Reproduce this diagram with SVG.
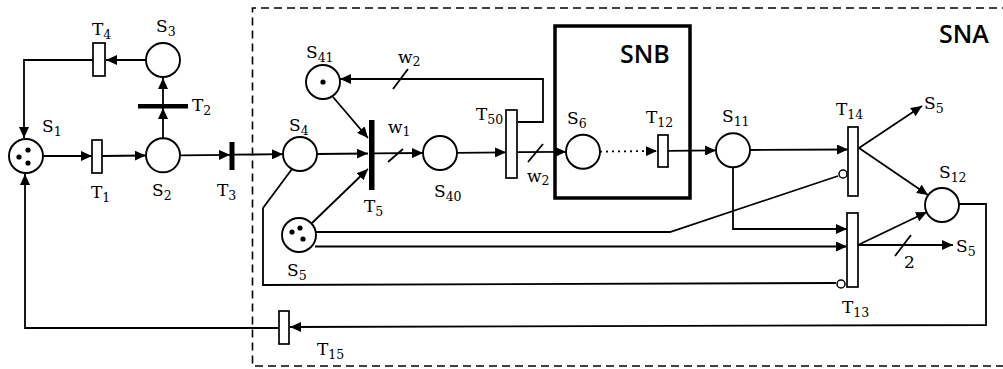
<svg xmlns="http://www.w3.org/2000/svg" width="1003" height="369" viewBox="0 0 1003 369">
<style>
.ln{fill:none;stroke:#000;stroke-width:1.8}
.pl{fill:#fff;stroke:#000;stroke-width:1.9}
.tr{fill:#fff;stroke:#000;stroke-width:1.7}
.bar{fill:#000}
.tk{fill:#000}
.lb{font-family:"DejaVu Serif","Liberation Serif",serif;font-size:17px;fill:#000}
.sb{font-size:12.5px}
.hd{font-family:"Open Sans","Liberation Sans",sans-serif;font-size:25px;font-weight:600;fill:#000}
.inh{fill:#fff;stroke:#000;stroke-width:1.5}
</style>
<defs>
<marker id="ar" markerUnits="userSpaceOnUse" markerWidth="12" markerHeight="10" refX="11" refY="5" orient="auto">
<path d="M0,0 L11,5 L0,10 z" fill="#000"/>
</marker>
</defs>
<rect width="1003" height="369" fill="#fff"/>
<g id="SNA">
<path d="M1010,8 L252.5,8 L252.5,366 L1010,366" fill="none" stroke="#000" stroke-width="1.6" stroke-dasharray="8,5"/>
<text class="hd" x="939" y="43">SNA</text>
</g>
<g id="SNB">
<rect x="555" y="26" width="135" height="172" fill="none" stroke="#000" stroke-width="3.5"/>
<text class="hd" x="620" y="63">SNB</text>
</g>
<g id="connectors">
<path class="ln" d="M93,60 L24,60 L24,138" marker-end="url(#ar)"/>
<path class="ln" d="M146,60 L106,60" marker-end="url(#ar)"/>
<path class="ln" d="M163,105 L163,78" marker-end="url(#ar)"/>
<path class="ln" d="M163,138 L163,108" marker-end="url(#ar)"/>
<path class="ln" d="M43,156 L92,156" marker-end="url(#ar)"/>
<path class="ln" d="M102,156 L146,155.5" marker-end="url(#ar)"/>
<path class="ln" d="M180,155.3 L230,154.8" marker-end="url(#ar)"/>
<path class="ln" d="M234,154.7 L283,154.2" marker-end="url(#ar)"/>
<path class="ln" d="M317,154 L368,153.5" marker-end="url(#ar)"/>
<path class="ln" d="M374,153.4 L423,153" marker-end="url(#ar)"/>
<path class="ln" d="M457,152.8 L506,152.3" marker-end="url(#ar)"/>
<path class="ln" d="M517,152.2 L566,151.8" marker-end="url(#ar)"/>
<path class="ln" d="M600,151.6 L657,151" marker-end="url(#ar)" stroke-dasharray="2,4"/>
<path class="ln" d="M668,150.9 L716,150.4" marker-end="url(#ar)"/>
<path class="ln" d="M750,150 L848,149.5" marker-end="url(#ar)"/>
<path class="ln" d="M518,122 L543,122 L543,79 L340,79" marker-end="url(#ar)"/>
<path class="ln" d="M333,97 L368,138" marker-end="url(#ar)"/>
<path class="ln" d="M312,223 L368,169" marker-end="url(#ar)"/>
<path class="ln" d="M292,169 L263,208 L263,285 L836,283"/>
<path class="ln" d="M316,232 L670,232 L838,176"/>
<path class="ln" d="M315,246.5 L847,246.5" marker-end="url(#ar)"/>
<path class="ln" d="M733,167 L733,229 L847,229" marker-end="url(#ar)"/>
<path class="ln" d="M859,148 L922,106" marker-end="url(#ar)"/>
<path class="ln" d="M859,148 L928,195" marker-end="url(#ar)"/>
<path class="ln" d="M858,245 L927,212" marker-end="url(#ar)"/>
<path class="ln" d="M858,245 L953,245" marker-end="url(#ar)"/>
<path class="ln" d="M959,204 L986,204 L986,325 L290,327" marker-end="url(#ar)"/>
<path class="ln" d="M279,328 L25,328 L25,174" marker-end="url(#ar)"/>
<path class="ln" d="M388,162 L403,149"/>
<path class="ln" d="M393,89 L408,69"/>
<path class="ln" d="M528,162 L543,144"/>
<path class="ln" d="M895,256 L911,235"/>
<circle class="inh" cx="843" cy="174" r="4"/>
<circle class="inh" cx="841" cy="284" r="4"/>
<text class="lb" x="388" y="133">w<tspan class="sb" dy="3">1</tspan></text>
<text class="lb" x="398" y="63">w<tspan class="sb" dy="3">2</tspan></text>
<text class="lb" x="527" y="182">w<tspan class="sb" dy="3">2</tspan></text>
<text class="lb" x="904" y="268">2</text>
</g>
<g id="S1">
<circle class="pl" cx="26" cy="156" r="17"/>
<circle class="tk" cx="19" cy="157" r="2.6"/>
<circle class="tk" cx="28" cy="150" r="2.6"/>
<circle class="tk" cx="28" cy="163" r="2.6"/>
<text class="lb" x="42" y="132">S<tspan class="sb" dy="4">1</tspan></text>
</g>
<g id="T1">
<rect class="tr" x="92" y="140" width="10" height="33"/>
<text class="lb" x="91" y="198">T<tspan class="sb" dy="4">1</tspan></text>
</g>
<g id="S2">
<circle class="pl" cx="163" cy="155.3" r="17"/>
<text class="lb" x="152" y="196">S<tspan class="sb" dy="4">2</tspan></text>
</g>
<g id="T2">
<rect class="bar" x="138" y="104" width="50" height="4.5"/>
<text class="lb" x="192" y="111">T<tspan class="sb" dy="4">2</tspan></text>
</g>
<g id="S3">
<circle class="pl" cx="163" cy="60" r="17"/>
<text class="lb" x="156" y="32">S<tspan class="sb" dy="4">3</tspan></text>
</g>
<g id="T4">
<rect class="tr" x="93" y="43" width="12" height="33"/>
<text class="lb" x="92" y="35">T<tspan class="sb" dy="4">4</tspan></text>
</g>
<g id="T3">
<rect class="bar" x="229.5" y="142" width="5" height="28"/>
<text class="lb" x="217" y="196">T<tspan class="sb" dy="4">3</tspan></text>
</g>
<g id="S4">
<circle class="pl" cx="300" cy="154" r="17"/>
<text class="lb" x="289" y="131">S<tspan class="sb" dy="4">4</tspan></text>
</g>
<g id="S41">
<circle class="pl" cx="323" cy="82" r="17"/>
<circle class="tk" cx="323" cy="82" r="2.6"/>
<text class="lb" x="306" y="58">S<tspan class="sb" dy="4">41</tspan></text>
</g>
<g id="T5">
<rect class="bar" x="369" y="120" width="5.5" height="70"/>
<text class="lb" x="364" y="212">T<tspan class="sb" dy="4">5</tspan></text>
</g>
<g id="S5">
<circle class="pl" cx="299" cy="235" r="17"/>
<circle class="tk" cx="292" cy="232" r="2.6"/>
<circle class="tk" cx="300" cy="228" r="2.6"/>
<circle class="tk" cx="303" cy="239" r="2.6"/>
<text class="lb" x="287" y="276">S<tspan class="sb" dy="4">5</tspan></text>
</g>
<g id="S40">
<circle class="pl" cx="440" cy="153" r="17"/>
<text class="lb" x="434" y="197">S<tspan class="sb" dy="4">40</tspan></text>
</g>
<g id="T50">
<rect class="tr" x="506" y="110" width="11" height="68"/>
<text class="lb" x="476" y="120">T<tspan class="sb" dy="4">50</tspan></text>
</g>
<g id="S6">
<circle class="pl" cx="583" cy="151.7" r="17"/>
<text class="lb" x="567" y="124">S<tspan class="sb" dy="4">6</tspan></text>
</g>
<g id="T12">
<rect class="tr" x="658" y="135" width="10" height="32"/>
<text class="lb" x="646" y="123">T<tspan class="sb" dy="4">12</tspan></text>
</g>
<g id="S11">
<circle class="pl" cx="733" cy="150.2" r="17"/>
<text class="lb" x="722" y="122">S<tspan class="sb" dy="4">11</tspan></text>
</g>
<g id="T14">
<rect class="tr" x="848" y="127" width="10" height="69"/>
<text class="lb" x="836" y="115">T<tspan class="sb" dy="4">14</tspan></text>
</g>
<g id="T13">
<rect class="tr" x="847" y="213" width="11" height="74"/>
<text class="lb" x="842" y="313">T<tspan class="sb" dy="4">13</tspan></text>
</g>
<g id="S12">
<circle class="pl" cx="942" cy="205" r="17"/>
<text class="lb" x="939" y="178">S<tspan class="sb" dy="4">12</tspan></text>
</g>
<g id="S5out">
<text class="lb" x="924" y="109">S<tspan class="sb" dy="4">5</tspan></text>
<text class="lb" x="956" y="252">S<tspan class="sb" dy="4">5</tspan></text>
</g>
<g id="T15">
<rect class="tr" x="279" y="311" width="10" height="33"/>
<text class="lb" x="317" y="355">T<tspan class="sb" dy="4">15</tspan></text>
</g>
</svg>
